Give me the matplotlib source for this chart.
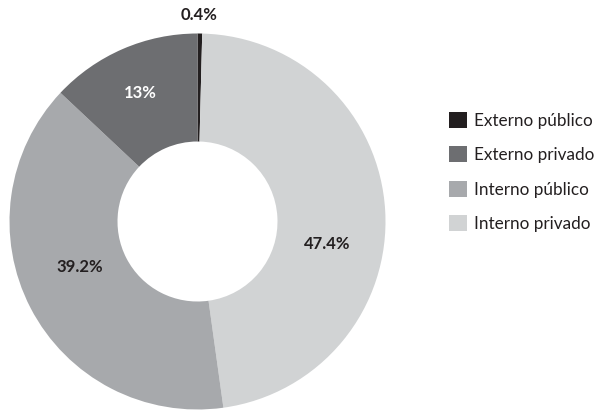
import matplotlib.pyplot as plt
import numpy as np
from matplotlib.patches import Patch

# Share of each source (percent)
categories = ['Externo público', 'Externo privado', 'Interno público', 'Interno privado']
values = [0.4, 13.0, 39.2, 47.4]
colors = ['#231f20', '#6d6e71', '#a7a9ac', '#d1d3d4']
label_colors = ['#231f20', 'white', '#231f20', '#231f20']

# Text positions for the percentage labels (angle in degrees, distance as fraction of radius)
label_pos = [(89.5, 1.10), (114, 0.75), (201, 0.67), (-10, 0.70)]

plt.rcParams['font.family'] = ['Lato', 'DejaVu Sans']

fig = plt.figure(figsize=(6, 4.12), dpi=100)
ax = fig.add_axes([0, 0, 1, 1])

cx, cy, r = 197.5, 190.5, 188
# Clockwise from the top, so the smallest slice sits just right of 12 o'clock
order = [0, 3, 2, 1]
ax.pie([values[i] for i in order], colors=[colors[i] for i in order],
       startangle=90, counterclock=False, center=(cx, cy), radius=r,
       wedgeprops=dict(width=108, linewidth=0), frame=True)
ax.set_xlim(0, 600)
ax.set_ylim(0, 412)
ax.set_aspect('equal')
ax.axis('off')

for v, c, (ang, d) in zip(values, label_colors, label_pos):
    a = np.deg2rad(ang)
    ax.text(cx + d * r * np.cos(a), cy + d * r * np.sin(a), f'{v:g}%',
            ha='center', va='center', fontsize=12, fontweight='bold', color=c)

handles = [Patch(facecolor=col, edgecolor='none') for col in colors]
ax.legend(handles, categories, loc='upper left', bbox_to_anchor=(0.725, 0.762),
          frameon=False, fontsize=12.3, handlelength=1.06, handleheight=1.06,
          handletextpad=0.45, labelspacing=1.04, labelcolor='#231f20',
          borderpad=0.3)

fig.savefig('out.png', dpi=100)
